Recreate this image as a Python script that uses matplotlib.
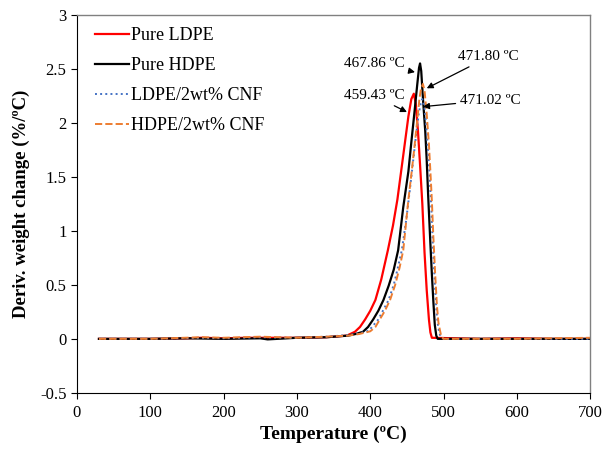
import numpy as np
import matplotlib.pyplot as plt

plt.rcParams['font.family'] = ['Liberation Serif', 'DejaVu Serif']

# DTG curves
T_ldpe = [30, 100, 150, 170, 200, 230, 260, 300, 340, 350, 368, 379, 386, 393, 400, 407, 415, 424,
          431, 437, 445, 452, 456, 459.4, 462, 465, 468, 471, 474, 477, 480, 482, 484, 550, 600,
          650, 700]
d_ldpe = [0.0, 0.0, 0.005, 0.01, 0.005, 0.01, 0.01, 0.01, 0.015, 0.02, 0.03, 0.065, 0.11, 0.18, 0.26,
          0.36, 0.55, 0.82, 1.05, 1.29, 1.70, 2.06, 2.22, 2.27, 2.18, 1.93, 1.60, 1.25, 0.80, 0.45,
          0.18, 0.06, 0.01, 0.0, 0.005, 0.0, 0.0]

T_hdpe = [30, 100, 150, 200, 250, 260, 300, 340, 350, 370, 380, 390, 397, 404, 411, 418, 425, 432,
          438, 445, 452, 456, 460, 464, 466.5, 467.9, 469.5, 472, 475, 477, 479, 482, 484, 486,
          488, 490, 492, 550, 600, 700]
d_hdpe = [0.0, 0.0, 0.005, 0.0, 0.005, -0.005, 0.01, 0.015, 0.02, 0.03, 0.045, 0.065, 0.11, 0.18,
          0.26, 0.36, 0.49, 0.64, 0.82, 1.22, 1.55, 1.82, 2.08, 2.35, 2.51, 2.55, 2.48, 2.21, 1.92,
          1.65, 1.32, 0.88, 0.60, 0.35, 0.13, 0.03, 0.0, 0.0, 0.0, 0.0]

T_ldpe_cnf = [30, 100, 170, 200, 250, 300, 340, 370, 385, 398, 411, 425, 432, 437, 443, 449, 454,
              458, 462, 466, 468.5, 471, 474, 477, 480, 483, 485, 487.5, 490, 492, 494, 496, 500,
              600, 700]
d_ldpe_cnf = [0.0, 0.0, 0.01, 0.005, 0.015, 0.01, 0.02, 0.035, 0.05, 0.075, 0.18, 0.36, 0.50, 0.64,
              0.82, 1.10, 1.38, 1.62, 1.86, 2.08, 2.17, 2.22, 2.14, 1.92, 1.62, 1.25, 0.92, 0.58,
              0.28, 0.14, 0.06, 0.02, 0.0, 0.0, 0.0]

T_hdpe_cnf = [30, 100, 170, 200, 250, 300, 340, 370, 385, 400, 407, 413, 420, 427, 434, 440, 445,
              452, 456, 460, 464, 467, 469, 471.8, 474, 477, 480, 482, 484, 486, 488.5, 491, 493,
              495, 497, 500, 600, 700]
d_hdpe_cnf = [0.0, 0.0, 0.015, 0.01, 0.02, 0.01, 0.02, 0.03, 0.045, 0.07, 0.11, 0.18, 0.26, 0.36,
              0.50, 0.66, 0.82, 1.29, 1.52, 1.76, 2.02, 2.22, 2.31, 2.36, 2.30, 2.08, 1.80, 1.55,
              1.28, 0.95, 0.60, 0.30, 0.15, 0.08, 0.02, 0.0, 0.0, 0.01]

fig = plt.figure(figsize=(6.06, 4.5), dpi=100)
ax = fig.add_axes([0.127, 0.127, 0.847, 0.84])

ax.plot(T_ldpe, d_ldpe, color='#ff0000', lw=1.6, label='Pure LDPE')
ax.plot(T_hdpe, d_hdpe, color='black', lw=1.6, label='Pure HDPE')
ax.plot(T_ldpe_cnf, d_ldpe_cnf, color='#4472c4', lw=1.4, ls=':', label='LDPE/2wt% CNF')
ax.plot(T_hdpe_cnf, d_hdpe_cnf, color='#ed7d31', lw=1.4, ls='--', label='HDPE/2wt% CNF')

arr = dict(arrowstyle='-|>', color='black', lw=0.9, mutation_scale=9, shrinkA=1, shrinkB=0)
ax.annotate('467.86 ºC', xy=(461, 2.47), xytext=(447, 2.55), ha='right', va='center',
            fontsize=11, arrowprops=arr)
ax.annotate('459.43 ºC', xy=(450, 2.10), xytext=(447, 2.25), ha='right', va='center',
            fontsize=11, arrowprops=arr)
ax.annotate('471.80 ºC', xy=(477, 2.32), xytext=(520, 2.61), ha='left', va='center',
            fontsize=11, arrowprops=arr)
ax.annotate('471.02 ºC', xy=(472, 2.15), xytext=(522, 2.21), ha='left', va='center',
            fontsize=11, arrowprops=arr)

ax.set_xlim(0, 700)
ax.set_ylim(-0.5, 3)
ax.set_xticks(np.arange(0, 701, 100))
ax.set_yticks(np.arange(-0.5, 3.01, 0.5))
ax.set_yticklabels(['-0.5', '0', '0.5', '1', '1.5', '2', '2.5', '3'])
ax.tick_params(labelsize=12, length=4, width=0.8)
ax.tick_params(axis='x', pad=5)
for s in ['top', 'right']:
    ax.spines[s].set_color('#808080')
    ax.spines[s].set_linewidth(1.0)

ax.set_xlabel('Temperature (ºC)', fontsize=14, fontweight='bold', labelpad=3)
ax.set_ylabel('Deriv. weight change (%/ºC)', fontsize=13.5, fontweight='bold', labelpad=7)

ax.legend(loc='upper left', frameon=False, fontsize=13, handlelength=1.9, handletextpad=0.1,
          labelspacing=0.72, borderaxespad=0.3, bbox_to_anchor=(0.01, 1.0))

fig.savefig('out.png', dpi=100)
